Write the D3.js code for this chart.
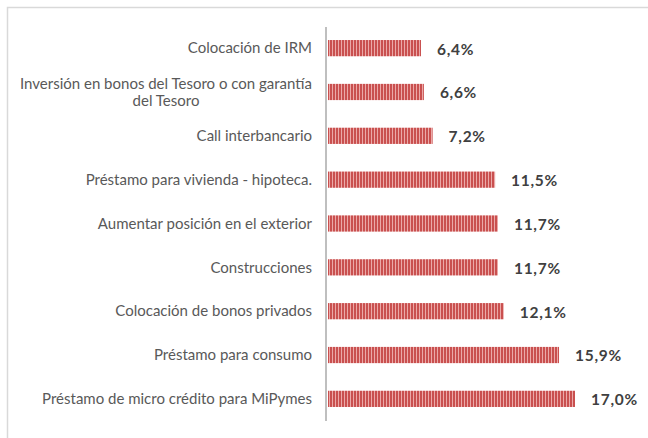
<!doctype html>
<html>
<head>
    <style>
        body { margin: 0; background: #fff; }
        svg { display: block; font-family: "Gill Sans MT", "Gill Sans", Lato, sans-serif; }
        .cat { fill: #595959; font-size: 15px; }
        .val { fill: #404040; font-size: 15.5px; font-weight: bold; letter-spacing: 0.7px; }
    </style>
    <script src="https://d3js.org/d3.v7.min.js"></script>
</head>
<body>
    <svg width="648" height="438"></svg>
    <script>
        var categories = [
            "Colocación de IRM",
            "Inversión en bonos del Tesoro o con garantía|del Tesoro",
            "Call interbancario",
            "Préstamo para vivienda - hipoteca.",
            "Aumentar posición en el exterior",
            "Construcciones",
            "Colocación de bonos privados",
            "Préstamo para consumo",
            "Préstamo de micro crédito para MiPymes"
        ];
        var values = [6.4, 6.6, 7.2, 11.5, 11.7, 11.7, 12.1, 15.9, 17.0];
        var valueLabels = ["6,4%", "6,6%", "7,2%", "11,5%", "11,7%", "11,7%", "12,1%", "15,9%", "17,0%"];

        var svg = d3.select("svg");

        // chart frame (only top and left edges fall inside the picture)
        svg.append("path")
            .attr("d", "M7.5,438V7.5H648")
            .attr("fill", "none")
            .attr("stroke", "#d9d9d9")
            .attr("stroke-width", 1.5);

        // striped fill
        var pat = svg.append("defs").append("pattern")
            .attr("id", "stripes")
            .attr("patternUnits", "userSpaceOnUse")
            .attr("width", 3).attr("height", 4);
        pat.append("rect").attr("width", 3).attr("height", 4).attr("fill", "#eba9a8");
        pat.append("rect").attr("width", 2).attr("height", 4).attr("fill", "#c9504f");

        var x = d3.scaleLinear().domain([0, 17]).range([328, 575]);
        var y = d3.scaleBand()
            .domain(categories)
            .range([26, 421])
            .paddingInner(0.63)
            .paddingOuter(0.32);

        var g = svg.append("g");

        g.selectAll(".bar")
            .data(values)
            .enter().append("rect")
            .attr("class", "bar")
            .attr("x", x(0))
            .attr("y", function (d, i) { return y(categories[i]); })
            .attr("width", function (d) { return x(d) - x(0); })
            .attr("height", y.bandwidth())
            .attr("fill", "url(#stripes)");

        // category axis line
        g.append("line")
            .attr("x1", 326).attr("x2", 326)
            .attr("y1", 27).attr("y2", 421)
            .attr("stroke", "#bfbfbf")
            .attr("stroke-width", 2);

        // value labels
        g.selectAll(".val")
            .data(values)
            .enter().append("text")
            .attr("class", "val")
            .attr("x", function (d) { return x(d) + 16; })
            .attr("y", function (d, i) { return y(categories[i]) + y.bandwidth() / 2 + 1; })
            .attr("dy", "0.35em")
            .text(function (d, i) { return valueLabels[i]; });

        // category labels
        categories.forEach(function (c, i) {
            var lines = c.split("|");
            var cy = y(c) + y.bandwidth() / 2;
            var lh = 17;
            var y0 = cy - (lines.length - 1) * lh / 2;
            var first = g.append("text")
                .attr("class", "cat")
                .attr("x", 312)
                .attr("y", y0)
                .attr("dy", "0.35em")
                .attr("text-anchor", "end")
                .text(lines[0]);
            if (lines.length > 1) {
                var w = first.node().getComputedTextLength();
                var mid = 312 - w / 2;
                for (var k = 1; k < lines.length; k++) {
                    g.append("text")
                        .attr("class", "cat")
                        .attr("x", mid)
                        .attr("y", y0 + k * lh)
                        .attr("dy", "0.35em")
                        .attr("text-anchor", "middle")
                        .text(lines[k]);
                }
            }
        });
    </script>
</body>
</html>
